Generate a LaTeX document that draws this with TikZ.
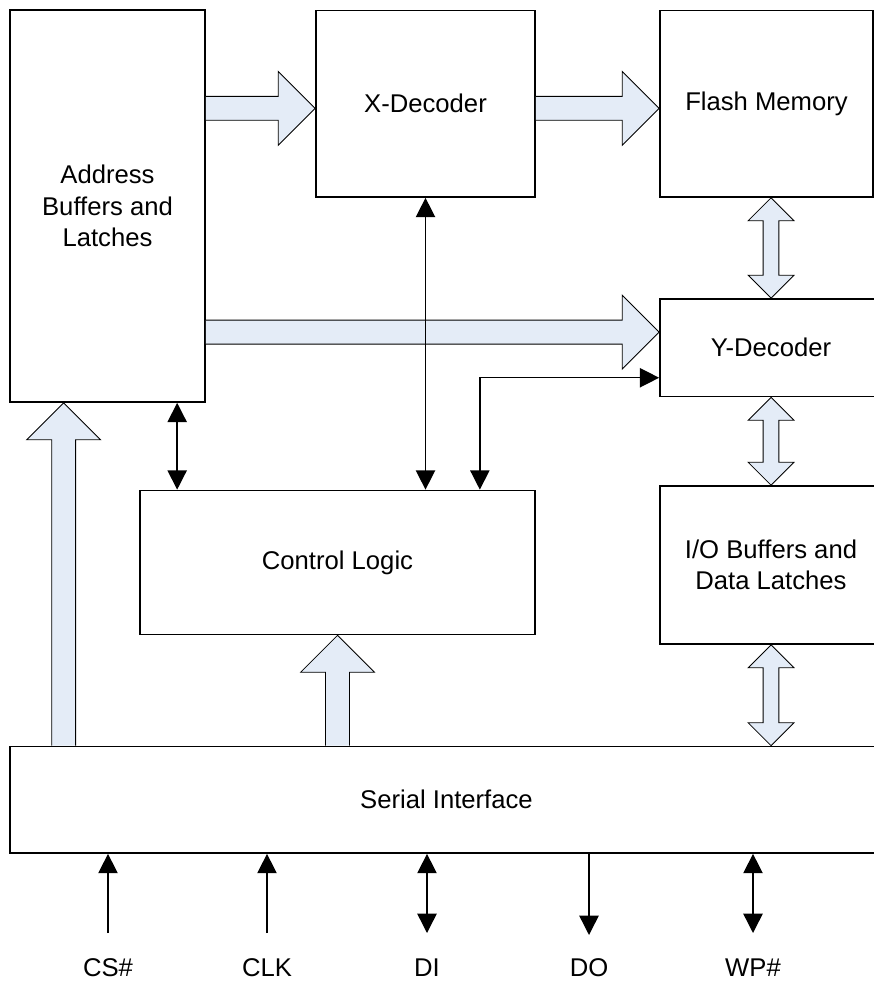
\documentclass[tikz,border=0pt]{standalone}
\usepackage{fontspec}
\setmainfont{Liberation Sans}
\usepackage{tikz}
\usetikzlibrary{arrows.meta, calc}

\definecolor{busfill}{RGB}{228,236,247}

% breiter Pfeil nach rechts: #1 Anfang, #2 Spitze
\newcommand\busright[2]{%
  \draw[bus] let \p1=#1, \p2=#2 in
    (\x1,\y2+6.8pt) -- (\x2-21pt,\y2+6.8pt) -- (\x2-21pt,\y2+21pt) -- (\x2,\y2)
    -- (\x2-21pt,\y2-21pt) -- (\x2-21pt,\y2-6.8pt) -- (\x1,\y2-6.8pt);}
% breiter Pfeil nach oben: #1 Anfang, #2 Spitze
\newcommand\busup[2]{%
  \draw[bus] let \p1=#1, \p2=#2 in
    (\x2-6.8pt,\y1) -- (\x2-6.8pt,\y2-21pt) -- (\x2-21pt,\y2-21pt) -- (\x2,\y2)
    -- (\x2+21pt,\y2-21pt) -- (\x2+6.8pt,\y2-21pt) -- (\x2+6.8pt,\y1);}
% breiter Doppelpfeil: #1 oben, #2 unten
\newcommand\busboth[2]{%
  \draw[bus] let \p1=#1, \p2=#2 in
    (\x1,\y1) -- (\x1+13pt,\y1-13pt) -- (\x1+4.5pt,\y1-13pt) -- (\x1+4.5pt,\y2+13pt)
    -- (\x1+13pt,\y2+13pt) -- (\x1,\y2) -- (\x1-13pt,\y2+13pt) -- (\x1-4.5pt,\y2+13pt)
    -- (\x1-4.5pt,\y1-13pt) -- (\x1-13pt,\y1-13pt) -- cycle;}

\begin{document}
\begin{tikzpicture}[
    x=0.02cm, y=-0.02cm,
    every node/.style={font=\fontsize{14.6pt}{17.9pt}\selectfont},
    block/.style={rectangle, draw, line width=1pt, fill=white, align=center, inner sep=0pt},
    bus/.style={draw, line width=0.5pt, fill=busfill},
    sigline/.style={draw, line width=0.8pt, -{Triangle[length=11pt, width=11pt]}},
    sigboth/.style={sigline, {Triangle[length=11pt, width=11pt]}-{Triangle[length=11pt, width=11pt]}}
]
\useasboundingbox (0,0) rectangle (874,986);
\clip (0,0) rectangle (874,986);

% Bloecke
\node[block, minimum width=3.9cm, minimum height=7.84cm] (addr) at (107.5,206) {Address\\Buffers and\\Latches};
\node[block, minimum width=4.38cm, minimum height=3.73cm] (xdec) at (425.5,103.75) {X-Decoder};
\node[block, minimum width=4.26cm, minimum height=3.73cm] (flash) at (766.5,103.75) {Flash Memory};
\node[block, minimum width=4.44cm, minimum height=1.95cm] (ydec) at (771,347.75) {Y-Decoder};
\node[block, minimum width=7.9cm, minimum height=2.88cm] (ctrl) at (337.5,562.5) {Control Logic};
\node[block, minimum width=4.44cm, minimum height=3.16cm] (io) at (771,565) {I/O Buffers and\\Data Latches};
\node[block, minimum width=17.46cm, minimum height=2.13cm] (serial) at (446.5,799.75) {Serial Interface};

% Busse
\busright{(addr.east)}{([yshift=-2.6pt]xdec.west)}
\busright{(xdec.east)}{([yshift=-2.6pt]flash.west)}
\busright{(addr.east)}{([yshift=8.9pt]ydec.west)}
\busboth{(ydec.north |- flash.south)}{(ydec.north)}
\busboth{(ydec.south)}{(io.north)}
\busboth{(io.south)}{(io.south |- serial.north)}
\busup{(serial.north)}{($(addr.south west)+(54.5,0)$)}
\busup{(serial.north)}{(ctrl.south)}

% Steuerleitungen
\coordinate (a1) at ($(ctrl.north west)+(38,0)$);
\coordinate (a2) at ($(ctrl.north east)+(-56,0)$);
\draw[sigboth] (a1) -- (a1 |- addr.south);
\draw[sigboth] (xdec.south) -- (xdec.south |- ctrl.north);
\draw[sigboth] (a2) |- ($(ydec.west)+(0,30)$);

% Anschluesse
\node (cs) at (108,968) {CS\#};
\node (clk) at (267,968) {CLK};
\node (di) at (427,968) {DI};
\node (do) at (589,968) {DO};
\node (wp) at (753,968) {WP\#};
\draw[sigline] ($(cs)+(0,-35)$) -- (cs |- serial.south);
\draw[sigline] ($(clk)+(0,-35)$) -- (clk |- serial.south);
\draw[sigboth] ($(di)+(0,-35)$) -- (di |- serial.south);
\draw[sigline] (do |- serial.south) -- ($(do)+(0,-33)$);
\draw[sigboth] ($(wp)+(0,-35)$) -- (wp |- serial.south);

\end{tikzpicture}
\end{document}
